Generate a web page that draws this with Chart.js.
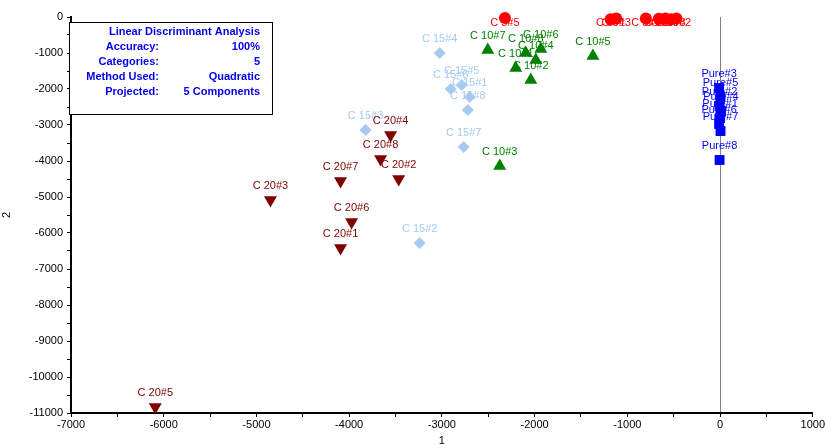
<!DOCTYPE html>
<html>
<head>
<meta charset="utf-8">
<script src="https://cdn.jsdelivr.net/npm/chart.js@4"></script>
<style>
  html, body { margin: 0; padding: 0; background: #fff; }
  #wrap { width: 826px; height: 448px; }
</style>
</head>
<body>
<div id="wrap"><canvas id="ldaChart"></canvas></div>
<script>
// discriminant scores (component 1 vs component 2)
const c5Labels = ['C 5#5', 'C 5#1', 'C 5#3', 'C 5#4', 'C 5#6', 'C 5#7', 'C 5#8', 'C 5#2'];
const c5X = [-2320, -1180, -1120, -800, -660, -590, -530, -470];
const c5Y = [-30, -60, -40, -40, -50, -40, -60, -40];

const c10Labels = ['C 10#7', 'C 10#8', 'C 10#6', 'C 10#4', 'C 10#1', 'C 10#2', 'C 10#5', 'C 10#3'];
const c10X = [-2505, -2095, -1933, -1987, -2203, -2041, -1371, -2376];
const c10Y = [-917, -1000, -890, -1194, -1417, -1750, -1083, -4139];

const c15Labels = ['C 15#4', 'C 15#6', 'C 15#5', 'C 15#1', 'C 15#8', 'C 15#3', 'C 15#7', 'C 15#2'];
const c15X = [-3024, -2905, -2786, -2700, -2720, -3823, -2765, -3240];
const c15Y = [-1000, -2000, -1890, -2220, -2580, -3139, -3611, -6278];

const c20Labels = ['C 20#4', 'C 20#8', 'C 20#2', 'C 20#7', 'C 20#3', 'C 20#6', 'C 20#1', 'C 20#5'];
const c20X = [-3553, -3661, -3466, -4093, -4849, -3974, -4093, -6091];
const c20Y = [-3278, -3944, -4500, -4556, -5083, -5694, -6417, -10833];

const pureLabels = ['Pure#3', 'Pure#5', 'Pure#2', 'Pure#4', 'Pure#1', 'Pure#6', 'Pure#7', 'Pure#8'];
const pureX = [-10, 5, -5, 10, 0, -10, 5, -5];
const pureY = [-1972, -2222, -2472, -2611, -2806, -2972, -3167, -3972];

const infoRows = [
  ['Accuracy:', '100%'],
  ['Categories:', '5'],
  ['Method Used:', 'Quadratic'],
  ['Projected:', '5 Components']
];

function toPoints(xs, ys, labels) {
  return xs.map((x, i) => ({ x: x, y: ys[i], name: labels[i] }));
}

// point labels, drawn above each marker (kept inside the plot area)
const pointLabels = {
  id: 'pointLabels',
  beforeDatasetsDraw(chart) {
    const ctx = chart.ctx;
    const top = chart.chartArea.top;
    ctx.save();
    ctx.font = '11px "Liberation Sans", Arial, sans-serif';
    ctx.textAlign = 'center';
    ctx.textBaseline = 'middle';
    chart.data.datasets.forEach((ds, i) => {
      const meta = chart.getDatasetMeta(i);
      ctx.fillStyle = ds.labelColor;
      meta.data.forEach((pt, j) => {
        const y = Math.max(pt.y - 14, top + 6);
        ctx.fillText(ds.data[j].name, pt.x, y);
      });
    });
    ctx.restore();
  }
};

// the summary box in the top left corner
const infoBox = {
  id: 'infoBox',
  afterDraw(chart) {
    const ctx = chart.ctx;
    ctx.save();
    ctx.fillStyle = '#fff';
    ctx.fillRect(69, 22, 204, 93);
    ctx.strokeStyle = '#000';
    ctx.lineWidth = 1;
    ctx.strokeRect(69.5, 22.5, 203, 92);
    ctx.fillStyle = '#0000ee';
    ctx.font = 'bold 11px "Liberation Sans", Arial, sans-serif';
    ctx.textBaseline = 'middle';
    ctx.textAlign = 'right';
    ctx.fillText('Linear Discriminant Analysis', 260, 32);
    infoRows.forEach((row, i) => {
      const y = 47 + i * 15;
      ctx.fillText(row[0], 159, y);
      ctx.fillText(row[1], 260, y);
    });
    ctx.restore();
  }
};

const tickFont = { family: '"Liberation Sans", Arial, sans-serif', size: 11 };

new Chart(document.getElementById('ldaChart'), {
  type: 'scatter',
  data: {
    datasets: [
      {
        data: toPoints(c5X, c5Y, c5Labels),
        pointStyle: 'circle', pointRadius: 6,
        backgroundColor: '#ff0000', borderColor: '#ff0000', borderWidth: 0,
        labelColor: '#ff0000', clip: false
      },
      {
        data: toPoints(c10X, c10Y, c10Labels),
        pointStyle: 'triangle', pointRadius: 7.5,
        backgroundColor: '#008000', borderColor: '#008000', borderWidth: 0,
        labelColor: '#008000', clip: false
      },
      {
        data: toPoints(c15X, c15Y, c15Labels),
        pointStyle: 'rectRot', pointRadius: 6,
        backgroundColor: '#a6caf0', borderColor: '#a6caf0', borderWidth: 0,
        labelColor: '#a6caf0', clip: false
      },
      {
        data: toPoints(c20X, c20Y, c20Labels),
        pointStyle: 'triangle', rotation: 180, pointRadius: 7.5,
        backgroundColor: '#800000', borderColor: '#800000', borderWidth: 0,
        labelColor: '#800000', clip: false
      },
      {
        data: toPoints(pureX, pureY, pureLabels),
        pointStyle: 'rect', pointRadius: 7,
        backgroundColor: '#0000ff', borderColor: '#0000ff', borderWidth: 0,
        labelColor: '#0000ff', clip: false
      }
    ]
  },
  options: {
    responsive: true,
    maintainAspectRatio: false,
    animation: false,
    layout: { padding: { top: 17, right: 13, left: 0, bottom: 0 } },
    plugins: {
      legend: { display: false },
      tooltip: { enabled: false }
    },
    scales: {
      x: {
        type: 'linear',
        min: -7000, max: 1000,
        afterFit: s => { s.height = 35; },
        border: { color: '#000', width: 2 },
        grid: {
          color: c => c.tick && c.tick.value === 0 ? '#808080' : 'rgba(0,0,0,0)',
          tickColor: '#000',
          tickLength: 4,
          drawTicks: true
        },
        ticks: {
          stepSize: 500,
          autoSkip: false,
          maxRotation: 0,
          color: '#000',
          font: tickFont,
          padding: 1,
          callback: v => v % 1000 === 0 ? String(v) : ''
        },
        title: { display: true, text: '1', color: '#000', font: tickFont, padding: 0 }
      },
      y: {
        type: 'linear',
        min: -11000, max: 0,
        afterFit: s => { s.width = 71; },
        border: { color: '#000', width: 2 },
        grid: {
          color: 'rgba(0,0,0,0)',
          tickColor: '#000',
          tickLength: 4
        },
        ticks: {
          stepSize: 500,
          autoSkip: false,
          color: '#000',
          font: tickFont,
          padding: 4,
          callback: v => v % 1000 === 0 ? String(v) : ''
        },
        title: { display: true, text: '2', color: '#000', font: tickFont, padding: 0 }
      }
    }
  },
  plugins: [pointLabels, infoBox]
});
</script>
</body>
</html>
